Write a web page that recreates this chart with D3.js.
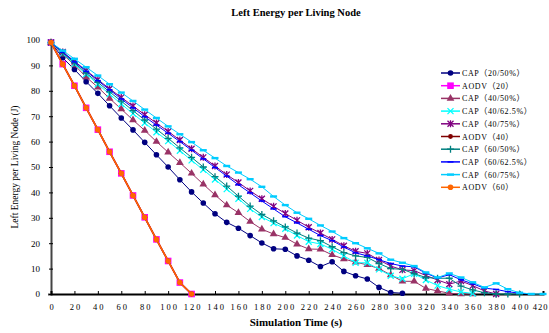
<!DOCTYPE html>
<html lang="en">
<head>
<meta charset="UTF-8">
<title>Left Energy per Living Node</title>
<script src="https://d3js.org/d3.v7.min.js"></script>
<style>
  body { margin: 0; background: #fff; }
  svg text { font-family: "Liberation Serif", "DejaVu Serif", serif; fill: #000; }
  .leg text { font-family: "Liberation Serif", "Noto Sans CJK SC", serif; }
</style>
</head>
<body>
<svg width="549" height="333"></svg>
<script>
// simulation time (s), one sample every 10 s
const times = [0, 10, 20, 30, 40, 50, 60, 70, 80, 90, 100, 110, 120, 130, 140, 150, 160, 170, 180, 190, 200,
               210, 220, 230, 240, 250, 260, 270, 280, 290, 300, 310, 320, 330, 340, 350, 360, 370, 380, 390, 400, 410, 420];
const xTicks = [0, 20, 40, 60, 80, 100, 120, 140, 160, 180, 200, 220, 240, 260, 280, 300, 320, 340, 360, 380, 400, 420];
const yTicks = [0, 10, 20, 30, 40, 50, 60, 70, 80, 90, 100];

const cap20_50 = [99, 93, 88.4, 83.6, 79, 74.1, 69.3, 64.6, 59.7, 54.8, 50, 45, 40.2, 35.8, 31.6, 28.2, 25.9, 23, 20.1, 17.8, 17.6,
                  15, 13.3, 10.8, 12.7, 8.9, 7.2, 5.9, 2.6, 0.6, 0.3];
const aodv20 = [99, 90.5, 82, 73.3, 64.7, 56, 47.5, 38.8, 30.2, 21.5, 13, 4.5, 0];
const cap40_50 = [99, 94.4, 90.2, 85.4, 81.4, 77, 72.8, 68.5, 64.4, 60, 55.8, 51.7, 47.5, 43.2, 39, 35, 32, 28.5, 25.5, 23.6, 22.2,
                  19.6, 17.7, 17.6, 15.4, 13.8, 12.5, 11.5, 10, 7.5, 5, 5, 2.2, 1.2, 0.3, 0, 0];
const cap40_625 = [99, 94.8, 90.6, 86.6, 82.6, 78.7, 74.8, 71, 67.3, 63.7, 60.2, 56.4, 52.6, 48.9, 45.1, 41.3, 37.5, 33.5, 30.3, 27.9, 25.7,
                   23, 20.6, 19.7, 17.6, 15, 12.3, 12.3, 9.7, 7.2, 6, 8, 5.5, 3.3, 1.9, 0.8, 0.2];
const cap40_75 = [99, 95.3, 91.6, 88, 84.4, 80.8, 77.4, 74, 70.6, 67.3, 64, 60.6, 57.2, 53.8, 50.4, 47, 43.9, 40.6, 37.5, 34.5, 31.7,
                  29, 26.3, 24, 21.5, 19, 16.8, 16, 13.4, 11, 9.5, 9.2, 7.3, 5.5, 3.9, 5.1, 3.3, 1.2, 0];
const aodv40 = [99, 90.5, 82, 73.3, 64.7, 56, 47.5, 38.8, 30.2, 21.5, 13, 4.5, 0];
const cap60_50 = [99, 95, 91, 87, 83.3, 79.6, 75.9, 72.2, 68.5, 64.9, 61.3, 57.5, 53.8, 50, 46.2, 42.5, 38.5, 34.6, 31.3, 28.8, 26.4,
                  24, 22, 21, 18.6, 16.3, 15, 14.4, 12, 10, 9.7, 8, 6.5, 6.2, 6.2, 3.1, 1.6, 0.5, 0, 0, 0];
const cap60_625 = [99, 95.2, 91.4, 87.7, 84, 80.4, 76.8, 73.3, 69.8, 66.5, 63.3, 60, 56.6, 53.2, 49.8, 46.4, 43, 39.8, 36.6, 33.5, 30.4,
                   28, 25.5, 23, 21, 18.5, 16.2, 15, 13.5, 12, 11, 10.7, 8.2, 6.3, 7.6, 5.6, 4, 2.3, 1.8, 0.9, 0.3, 0];
const cap60_75 = [99, 95.8, 92.6, 89.3, 86, 82.6, 79.3, 76, 72.6, 69.3, 66, 62.9, 59.8, 56.6, 53.5, 50.4, 47.8, 45.2, 42.2, 38.4, 35,
                  32, 29.6, 27, 24.6, 22, 20, 18, 16, 13.5, 12.3, 11, 8.5, 6.5, 8.1, 6.5, 4.6, 2.6, 4.2, 1.9, 0.5, 0, 0];
const aodv60 = [99, 90.5, 82, 73.3, 64.7, 56, 47.5, 38.8, 30.2, 21.5, 13, 4.5, 0];

const series = [
    { name: "CAP（20/50%）", values: cap20_50, color: "#000080", marker: "circle" },
    { name: "AODV（20）", values: aodv20, color: "#FF00FF", marker: "square" },
    { name: "CAP（40/50%）", values: cap40_50, color: "#993366", marker: "triangle" },
    { name: "CAP（40/62.5%）", values: cap40_625, color: "#00FFFF", marker: "x" },
    { name: "CAP（40/75%）", values: cap40_75, color: "#800080", marker: "star" },
    { name: "AODV（40）", values: aodv40, color: "#800000", marker: "dot" },
    { name: "CAP（60/50%）", values: cap60_50, color: "#008080", marker: "plus" },
    { name: "CAP（60/62.5%）", values: cap60_625, color: "#0000FF", marker: "dash" },
    { name: "CAP（60/75%）", values: cap60_75, color: "#00CCFF", marker: "bar" },
    { name: "AODV（60）", values: aodv60, color: "#FF6600", marker: "circle" }
];

const svg = d3.select("svg");
const margin = { left: 51, right: 6, top: 40, bottom: 39 };
const x = d3.scaleLinear().domain([0, 420]).range([margin.left, 549 - margin.right]);
const y = d3.scaleLinear().domain([0, 100]).range([333 - margin.bottom, margin.top]);

// title
svg.append("text")
    .attr("x", 296).attr("y", 16)
    .attr("text-anchor", "middle")
    .style("font-size", "10.5px").style("font-weight", "bold")
    .text("Left Energy per Living Node");

// axes
const yAxis = svg.append("g")
    .attr("transform", `translate(${margin.left},0)`)
    .call(d3.axisLeft(y).tickValues(yTicks).tickSize(3).tickPadding(8));
yAxis.select(".domain").attr("stroke", "#444").attr("stroke-width", 2);
yAxis.selectAll("line").attr("stroke", "#000").attr("x2", 2).attr("x1", -2);
yAxis.selectAll("text").style("font-size", "9px");

const xAxis = svg.append("g")
    .attr("transform", `translate(0,${y(0)})`)
    .call(d3.axisBottom(x).tickValues(xTicks).tickSize(-3).tickPadding(10));
xAxis.select(".domain").attr("stroke", "#000").attr("stroke-width", 2);
xAxis.selectAll("line").attr("stroke", "#000");
xAxis.selectAll("text")
    .style("font-size", "8.5px")
    .style("letter-spacing", "2px")
    .attr("dx", "1px");
// keep the last label inside the picture
xAxis.selectAll(".tick").filter(d => d === 420).select("text")
    .attr("text-anchor", "end").attr("dx", "5px").style("letter-spacing", "1px");

// axis titles
svg.append("text")
    .attr("x", 296).attr("y", 326)
    .attr("text-anchor", "middle")
    .style("font-size", "11px").style("font-weight", "bold")
    .text("Simulation Time (s)");

svg.append("text")
    .attr("transform", "rotate(-90)")
    .attr("x", -167).attr("y", 18)
    .attr("text-anchor", "middle")
    .style("font-size", "9.5px")
    .text("Left Energy per Living Node (J)");

// marker drawing
function drawMarker(g, type, color) {
    switch (type) {
        case "circle":
            g.append("circle").attr("r", 2.8).attr("fill", color);
            break;
        case "dot":
            g.append("circle").attr("r", 2.4).attr("fill", color);
            break;
        case "square":
            g.append("rect").attr("x", -3.3).attr("y", -3.3).attr("width", 6.6).attr("height", 6.6).attr("fill", color);
            break;
        case "triangle":
            g.append("path").attr("d", d3.symbol(d3.symbolTriangle, 26)()).attr("fill", color);
            break;
        case "x":
            g.append("path").attr("d", "M-3,-3L3,3M-3,3L3,-3").attr("stroke", color).attr("stroke-width", 1.3);
            break;
        case "star":
            g.append("path").attr("d", "M-3,-3L3,3M-3,3L3,-3M0,-3.5L0,3.5").attr("stroke", color).attr("stroke-width", 1.3);
            break;
        case "plus":
            g.append("path").attr("d", "M-3.5,0L3.5,0M0,-3.5L0,3.5").attr("stroke", color).attr("stroke-width", 1.3);
            break;
        case "dash":
            g.append("path").attr("d", "M-3,0L3,0").attr("stroke", color).attr("stroke-width", 1.5);
            break;
        case "bar":
            g.append("rect").attr("x", -3.5).attr("y", -1.2).attr("width", 7).attr("height", 2.4).attr("fill", color);
            break;
    }
}

const line = d3.line().x((d, i) => x(times[i])).y(d => y(d));

series.forEach(s => {
    const g = svg.append("g");
    g.append("path")
        .datum(s.values)
        .attr("d", line)
        .attr("fill", "none")
        .attr("stroke", s.color)
        .attr("stroke-width", s.name.startsWith("AODV") ? 1.6 : 1);
    s.values.forEach((v, i) => {
        const m = g.append("g").attr("transform", `translate(${x(times[i])},${y(v)})`);
        drawMarker(m, s.marker, s.color);
    });
});

// legend
const legend = svg.append("g").attr("class", "leg").attr("transform", "translate(441,73)");
series.forEach((s, i) => {
    const row = legend.append("g").attr("transform", `translate(0,${i * 12.7})`);
    row.append("line").attr("x1", 0).attr("x2", 19).attr("y1", 0).attr("y2", 0)
        .attr("stroke", s.color).attr("stroke-width", 1.5);
    drawMarker(row.append("g").attr("transform", "translate(9.5,0)"), s.marker, s.color);
    row.append("text")
        .attr("x", 21).attr("y", 3)
        .style("font-size", "8px")
        .style("letter-spacing", "0.6px")
        .text(s.name);
});
</script>
</body>
</html>
